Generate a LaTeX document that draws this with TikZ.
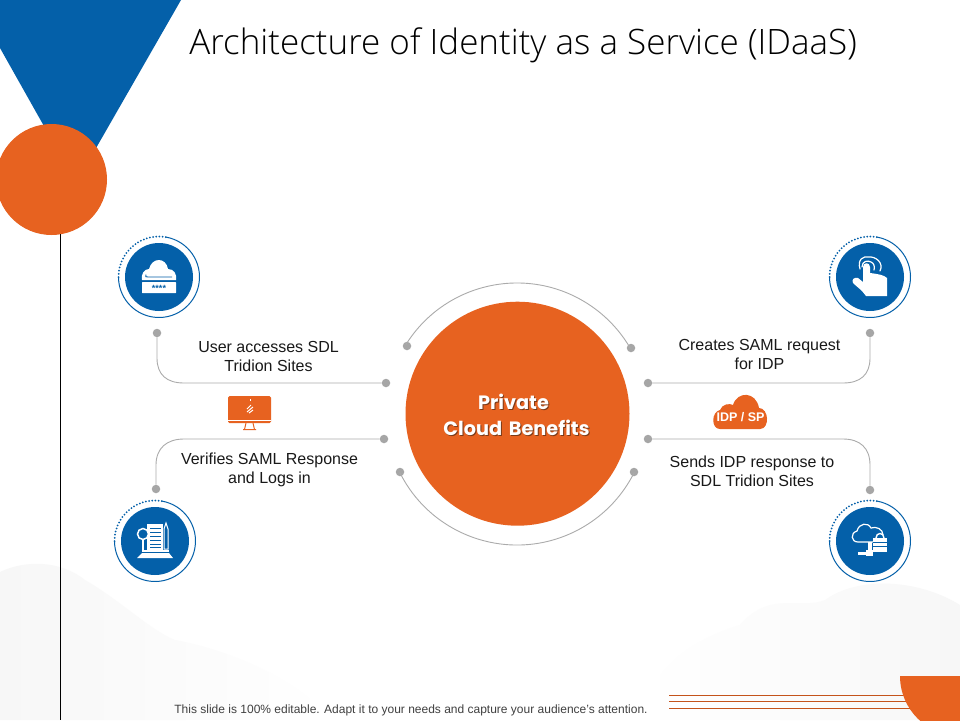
\documentclass[tikz,border=0pt]{standalone}
\usepackage{fontspec}
\setmainfont{Liberation Sans}
\newfontfamily\titlefont{Open Sans Light}
\newfontfamily\ctrfont[WordSpace=1.6]{Poppins}
\definecolor{bluec}{HTML}{0460A9}
\definecolor{orangec}{HTML}{E76220}
\definecolor{dotg}{HTML}{A6A6A6}
\definecolor{lineg}{HTML}{ABABAB}
\definecolor{bgg}{HTML}{F7F7F7}
\definecolor{shad}{HTML}{7A3A18}
\tikzset{
 x=1pt,y=-1pt,
 conn/.style={draw=lineg,line width=0.9pt},
 dotn/.style={circle,fill=dotg,minimum size=8.5pt,inner sep=0pt},
 lab/.style={font=\fontsize{16}{19.5}\selectfont,align=center,text=black!90},
 ringthin/.style={draw=bluec,line width=1pt},
 ringdot/.style={draw=bluec,line width=2pt,line cap=round,dash pattern=on 0pt off 3.2pt},
 orline/.style={draw=orangec!85!black,line width=1pt},
}
\begin{document}
\begin{tikzpicture}
\useasboundingbox (0,0) rectangle (960,720);
\fill[white] (0,0) rectangle (960,720);
% faint background clouds
\shade[left color=bgg,right color=white] (0,572) .. controls (25,560) and (60,560) .. (85,580) .. controls (120,600) and (150,630) .. (175,640) .. controls (230,650) and (300,680) .. (330,720) -- (0,720) -- cycle;
\shade[left color=white,right color=bgg] (640,720) .. controls (650,670) and (690,640) .. (740,625) .. controls (770,590) and (800,610) .. (825,600) .. controls (860,575) and (920,580) .. (960,605) -- (960,720) -- cycle;
% top-left shapes
\fill[bluec] (0,0) -- (181,0) -- (76,183) -- (0,48) -- cycle;
\node[circle,fill=orangec,minimum size=111pt,inner sep=0pt] (topcirc) at (51.5,179.5) {};
\draw[black,line width=0.9pt] (60.5,234) -- (60.5,720);
% bottom-right
\draw[orline] (669,695) -- (920,695);
\draw[orline] (669,701.5) -- (920,701.5);
\draw[orline] (669,708) -- (925,708);
\fill[orangec] (900,676) arc[start angle=180,end angle=90,radius=60] -- (960,676) -- cycle;
% title
\node[font=\titlefont\fontsize{35}{40}\selectfont,text=black,anchor=base] (title) at (523,54) {Architecture of Identity as a Service (IDaaS)};
% centre
\node[circle,fill=orangec,minimum size=224pt,inner sep=0pt] (centre) at (517.5,413.7) {};
\newcommand{\shtxt}[1]{\leavevmode\rlap{\raisebox{-1pt}{\hspace*{1pt}\textcolor{shad}{#1}}}\textcolor{white}{#1}}
\node[font=\ctrfont\bfseries\fontsize{19.3}{26}\selectfont,align=center] (ctext) at (516.5,415) {\shtxt{Private}\hspace*{6pt}\\\shtxt{Cloud Benefits}};
\node[dotn] (a1) at (407,346) {};
\node[dotn] (a2) at (631,348) {};
\node[dotn] (a3) at (400,472) {};
\node[dotn] (a4) at (634,472) {};
\coordinate (o) at (517,414);
\draw[conn] (o) ++(-148:131) arc[start angle=-148,end angle=-30,radius=131];
\draw[conn] (o) ++(153.6:131) arc[start angle=153.6,end angle=26.4,radius=131];
% connectors
\node[dotn] (l1s) at (157,333) {};
\node[dotn] (l1e) at (386,383) {};
\draw[conn] (l1s) -- (157,358) .. controls (157,375) and (167,383) .. (184,383) -- (l1e);
\node[dotn] (l2s) at (156,489) {};
\node[dotn] (l2e) at (384,439) {};
\draw[conn] (l2s) -- (156,465) .. controls (156,448) and (167,439) .. (184,439) -- (l2e);
\node[dotn] (r1s) at (870,333) {};
\node[dotn] (r1e) at (648,383) {};
\draw[conn] (r1s) -- (870,358) .. controls (870,375) and (860,383) .. (843,383) -- (r1e);
\node[dotn] (r2s) at (870,490) {};
\node[dotn] (r2e) at (648,439) {};
\draw[conn] (r2s) -- (870,465) .. controls (870,448) and (860,439) .. (843,439) -- (r2e);
% labels
\node[lab] (t1) at (268.5,356.5) {User accesses SDL\\Tridion Sites};
\node[lab] (t2) at (269.5,470) {Verifies SAML Response\\and Logs in};
\node[lab] (t3) at (759.5,354.5) {Creates SAML request\\for IDP};
\node[lab] (t4) at (752,471.5) {Sends IDP response to\\SDL Tridion Sites};
% icon discs
\foreach \nm/\cx/\cy in {d1/159/277,d2/155/541,d3/870/277,d4/870/541}{
  \node[circle,fill=bluec,minimum size=68pt,inner sep=0pt] (\nm) at (\cx,\cy) {};
  \draw[ringthin] (\cx,\cy) ++(-80:40.5) arc[start angle=-80,end angle=180,radius=40.5];
  \draw[ringdot] (\cx,\cy) ++(180:40.5) arc[start angle=180,end angle=280,radius=40.5];
}
% icon 1: cloud with password bar
\begin{scope}[shift={(159,277)}]
\fill[white] (-17,3) .. controls (-18,-3) and (-15,-8) .. (-10,-8) .. controls (-7,-20) and (7,-20) .. (9,-8) .. controls (15,-8) and (18,-3) .. (17,3) -- cycle;
\draw[bluec,line width=0.9pt] (-13,-2.5) .. controls (-14,0) and (-13,0) .. (-11,0) -- (13,0);
\fill[white,rounded corners=0.5pt] (-17,5) rectangle (17,16);
\node[font=\fontsize{9}{9}\selectfont\bfseries,text=bluec,inner sep=0pt] (pw) at (0,11.5) {****};
\end{scope}
% icon 3: hand
\begin{scope}[shift={(870,277)}]
\fill[white] (-4,19) .. controls (-8,13) and (-13,10) .. (-17,6) .. controls (-19,2) and (-15,0) .. (-12,1) -- (-7,5) -- (-7,-10) .. controls (-7,-15) and (0,-15) .. (0,-10) -- (0,-4) .. controls (8,-3) and (14,-2) .. (17,1) -- (17,19) -- cycle;
\draw[white,line width=1.2pt,line cap=round] (-10,-8) .. controls (-13,-18) and (-6,-21) .. (-2,-20) .. controls (6,-21) and (14,-14) .. (10,-6);
\draw[white,line width=1.2pt,line cap=round] (-8,-10) .. controls (-8,-16) and (-2,-17) .. (1,-15) .. controls (4,-14) and (5,-10) .. (4,-7);
\end{scope}
% icon 2: doc and magnifier
\begin{scope}[shift={(155,541)}]
\fill[white] (-8,-17) -- (8,-17) -- (8,9) -- (-8,9) -- cycle;
\foreach \yy in {-13,-9,-5,-1,3,6.5}{\draw[bluec,line width=1pt] (-5,\yy) -- (6,\yy);}
\draw[white,line width=1pt] (9,-12) -- (9,8) -- (13,8) -- (13,-12) -- (11,-18) -- cycle;
\fill[white] (-12,9) rectangle (14,11);
\fill[white] (-18,17) -- (-13,12) -- (14,12) -- (18,17) -- cycle;
\draw[white,fill=bluec,line width=1.5pt] (-12,-7) circle[radius=5.5];
\draw[white,line width=2pt] (-12,-1) -- (-12,11);
\end{scope}
% icon 4: cloud network lock
\begin{scope}[shift={(870,541)}]
\draw[white,line width=1.2pt] (3,1) -- (-12,1) .. controls (-19,1) and (-20,-8) .. (-13,-10) .. controls (-11,-18) and (-2,-19) .. (1,-13) .. controls (6,-15) and (13,-12) .. (13,-6);
\fill[white] (-2,1) rectangle (2,11);
\fill[white] (-4,9) rectangle (3,15);
\fill[white] (-12,11) rectangle (-4,14);
\fill[white] (3,-3) rectangle (17,11);
\draw[white,line width=1.4pt] (6,-3) .. controls (6,-9) and (14,-9) .. (14,-3);
\draw[bluec,line width=0.8pt] (3,1) -- (17,1) (3,5) -- (17,5);
\end{scope}
% monitor icon
\begin{scope}[shift={(250,411)}]
\fill[orangec,rounded corners=1.5pt] (-22,-15) rectangle (21,12);
\draw[white,line width=1pt] (-22,9) -- (21,9);
\draw[orangec,line width=1pt] (-4,12) -- (-5.5,18.5) (3,12) -- (4.5,18.5) (-7,18.5) -- (6,18.5);
\draw[white,line width=1pt] (-3,-2) -- (1,-6) (-3,1) -- (3,-4) (-1,2) -- (3,-1);
\fill[white] (-0.5,-12) rectangle (0,-10);
\end{scope}
% IDP cloud
\fill[orangec] (720,429) .. controls (711,429) and (711,412) .. (720,410) .. controls (722,404) and (730,403) .. (733,405) .. controls (737,391) and (756,391) .. (759,408) .. controls (769,408) and (770,429) .. (760,429) -- cycle;
\node[font=\bfseries\fontsize{12.5}{12}\selectfont,text=white,inner sep=0pt] (idp) at (740.5,417.5) {IDP / SP};
% footer
\node[font=\fontsize{12}{14}\selectfont,text=black!75,anchor=base] (foot) at (411,713) {This slide is 100\% editable. Adapt it to your needs and capture your audience's attention.};
\end{tikzpicture}
\end{document}
